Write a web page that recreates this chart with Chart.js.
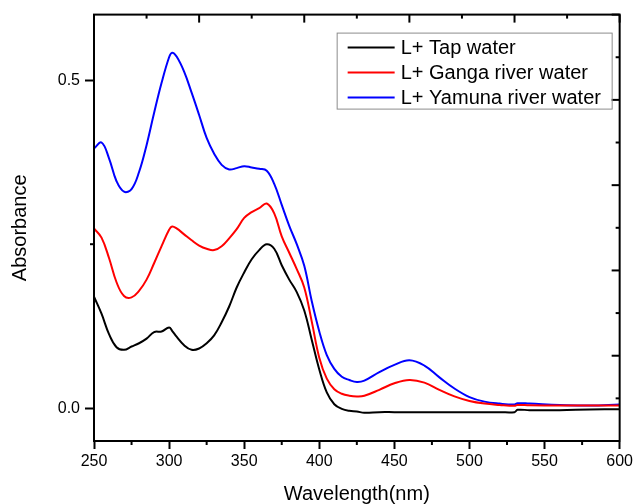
<!DOCTYPE html>
<html>
<head>
<meta charset="utf-8">
<script src="https://cdn.jsdelivr.net/npm/chart.js@4.4.1/dist/chart.umd.min.js"></script>
<style>
  html, body { margin: 0; padding: 0; background: #fff; }
  canvas { display: block; }
</style>
</head>
<body>
<canvas id="spectra" width="636" height="504"></canvas>
<script>
// wavelength (nm) shared by all three spectra
const wavelengths = [250, 255, 260, 265, 270, 275, 280, 285, 290, 295, 300, 302, 305, 310, 315, 320, 325, 330,
  335, 340, 345, 350, 355, 360, 365, 370, 375, 380, 385, 390, 395, 400, 405, 410, 415, 420, 425, 430,
  440, 450, 460, 470, 480, 490, 500, 510, 520, 530, 532, 540, 560, 580, 600];

const tapWater = [0.170, 0.144, 0.113, 0.093, 0.089, 0.094, 0.099, 0.106, 0.116, 0.117, 0.123, 0.118, 0.109,
  0.096, 0.089, 0.091, 0.099, 0.111, 0.131, 0.155, 0.184, 0.207, 0.227, 0.241, 0.250, 0.243, 0.218, 0.196,
  0.177, 0.149, 0.104, 0.059, 0.024, 0.006, -0.001, -0.004, -0.005, -0.007, -0.006, -0.006, -0.006, -0.006,
  -0.006, -0.006, -0.006, -0.006, -0.006, -0.006, -0.0025, -0.003, -0.003, -0.002, -0.0015];

const gangaWater = [0.274, 0.260, 0.229, 0.192, 0.171, 0.169, 0.179, 0.196, 0.221, 0.247, 0.272, 0.277, 0.274,
  0.265, 0.256, 0.248, 0.243, 0.241, 0.247, 0.259, 0.273, 0.290, 0.299, 0.305, 0.312, 0.297, 0.262, 0.237,
  0.212, 0.184, 0.132, 0.077, 0.045, 0.029, 0.022, 0.019, 0.018, 0.019, 0.028, 0.038, 0.043, 0.039, 0.028,
  0.018, 0.011, 0.007, 0.005, 0.0037, 0.005, 0.0045, 0.004, 0.004, 0.004];

const yamunaWater = [0.396, 0.405, 0.381, 0.346, 0.330, 0.334, 0.360, 0.401, 0.450, 0.496, 0.535, 0.542, 0.536,
  0.513, 0.481, 0.447, 0.412, 0.388, 0.371, 0.364, 0.366, 0.369, 0.367, 0.365, 0.362, 0.342, 0.310, 0.278,
  0.250, 0.217, 0.163, 0.117, 0.081, 0.060, 0.048, 0.043, 0.040, 0.042, 0.055, 0.066, 0.073, 0.065, 0.047,
  0.030, 0.017, 0.010, 0.007, 0.0056, 0.0076, 0.007, 0.005, 0.004, 0.0056];

const seriesNames = ['L+ Tap water', 'L+ Ganga river water', 'L+ Yamuna river water'];
const seriesColors = ['#000000', '#ff0000', '#0000ff'];

const FONT = '"Liberation Sans", Arial, sans-serif';
const toPoints = ys => wavelengths.map((w, i) => ({ x: w, y: ys[i] }));

// box, minor ticks, inner ticks on top/right, and the boxed legend
const frame = {
  id: 'frame',
  afterDraw(chart) {
    const { ctx, chartArea: a, scales } = chart;
    ctx.save();
    ctx.strokeStyle = '#000';
    ctx.lineWidth = 2;
    ctx.strokeRect(a.left, a.top, a.right - a.left, a.bottom - a.top);

    const line = (x1, y1, x2, y2) => {
      ctx.beginPath(); ctx.moveTo(x1, y1); ctx.lineTo(x2, y2); ctx.stroke();
    };

    // minor ticks halfway between labelled ones
    const xt = scales.x.ticks;
    for (let i = 0; i < xt.length - 1; i++) {
      const px = scales.x.getPixelForValue((xt[i].value + xt[i + 1].value) / 2);
      line(px, a.bottom, px, a.bottom + 4);
    }
    const yt = scales.y.ticks;
    for (let i = 0; i < yt.length - 1; i++) {
      const py = scales.y.getPixelForValue((yt[i].value + yt[i + 1].value) / 2);
      line(a.left, py, a.left - 4, py);
    }

    // top and right axes: unlabelled inward ticks
    scales.xTop.ticks.forEach(t => {
      const px = scales.xTop.getPixelForValue(t.value);
      line(px, a.top, px, a.top + (t.value % 2 ? 4 : 8));
    });
    scales.yRight.ticks.forEach(t => {
      const py = scales.yRight.getPixelForValue(t.value);
      line(a.right, py, a.right - (t.value % 2 ? 4 : 8), py);
    });

    // legend
    const bx = a.right - 283, by = a.top + 18, bw = 275, bh = 76;
    ctx.lineWidth = 1;
    ctx.strokeStyle = '#8c8c8c';
    ctx.strokeRect(bx + 0.5, by + 0.5, bw, bh);
    ctx.font = '20px ' + FONT;
    ctx.textBaseline = 'middle';
    ctx.fillStyle = '#000';
    chart.data.datasets.forEach((ds, i) => {
      const ly = by + 15 + i * 25;
      ctx.strokeStyle = ds.borderColor;
      ctx.lineWidth = 2;
      line(bx + 11, ly, bx + 58, ly);
      ctx.fillText(ds.label, bx + 64, ly + 1);
    });
    ctx.restore();
  }
};

new Chart(document.getElementById('spectra'), {
  type: 'line',
  data: {
    datasets: [
      { label: seriesNames[0], data: toPoints(tapWater), borderColor: seriesColors[0] },
      { label: seriesNames[1], data: toPoints(gangaWater), borderColor: seriesColors[1] },
      { label: seriesNames[2], data: toPoints(yamunaWater), borderColor: seriesColors[2] },
    ],
  },
  options: {
    responsive: false,
    animation: false,
    layout: { padding: { top: 14, right: 14, left: 0, bottom: 0 } },
    elements: {
      point: { radius: 0 },
      line: { borderWidth: 2, tension: 0.4, fill: false },
    },
    plugins: { legend: { display: false }, tooltip: { enabled: false } },
    scales: {
      x: {
        type: 'linear',
        min: 250,
        max: 600,
        ticks: { stepSize: 50, color: '#000', font: { family: FONT, size: 16 }, padding: 3, maxRotation: 0 },
        grid: { drawOnChartArea: false, tickLength: 8, tickWidth: 2, tickColor: '#000' },
        border: { color: '#000', width: 2 },
        title: {
          display: true, text: 'Wavelength(nm)', color: '#000',
          font: { family: FONT, size: 20, lineHeight: 1 }, padding: { top: 0, bottom: 0 },
        },
        afterFit: s => { s.height = 63; },
      },
      y: {
        type: 'linear',
        min: -0.05,
        max: 0.6,
        ticks: {
          stepSize: 0.5, includeBounds: false, color: '#000', padding: 5,
          font: { family: FONT, size: 16 }, callback: v => v.toFixed(1),
        },
        grid: { drawOnChartArea: false, tickLength: 9, tickWidth: 2, tickColor: '#000' },
        border: { color: '#000', width: 2 },
        title: {
          display: true, text: 'Absorbance', color: '#000',
          font: { family: FONT, size: 20, lineHeight: 1 }, padding: { top: 10, bottom: 0 },
        },
        afterFit: s => { s.width = 94; },
      },
      xTop: { type: 'linear', position: 'top', display: false, min: 0, max: 10, ticks: { stepSize: 1 } },
      yRight: { type: 'linear', position: 'right', display: false, min: 0, max: 10, ticks: { stepSize: 1 } },
    },
  },
  plugins: [frame],
});
</script>
</body>
</html>
